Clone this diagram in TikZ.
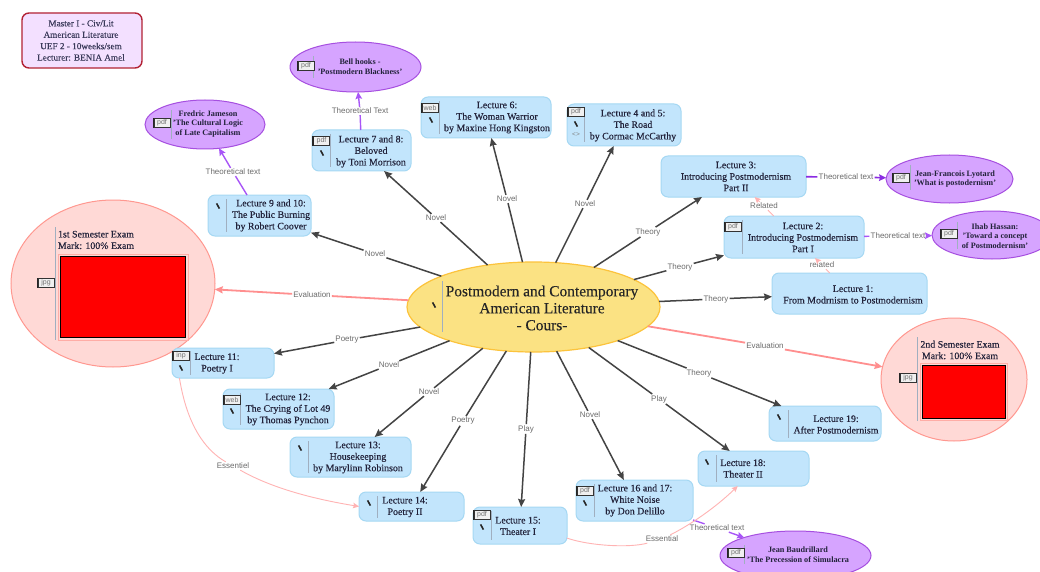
\documentclass[tikz,border=0pt]{standalone}
\usepackage{fontspec}
\setmainfont{Liberation Serif}
\setsansfont{Liberation Sans}
\newfontfamily\heavyserif[FakeBold=0.25]{Liberation Serif}
\usetikzlibrary{arrows.meta,shapes.geometric}
\definecolor{lecfill}{HTML}{C2E5FC}
\definecolor{lecline}{HTML}{A5D8F3}
\definecolor{purfill}{HTML}{D6A4FF}
\definecolor{purline}{HTML}{A64FE0}
\definecolor{pinkfill}{HTML}{FFD9D6}
\definecolor{pinkline}{HTML}{FF9890}
\definecolor{mainfill}{HTML}{FBE283}
\definecolor{mainline}{HTML}{FCC33C}
\definecolor{divcol}{HTML}{A0AFC0}
\definecolor{edgecol}{HTML}{444444}
\definecolor{evalcol}{HTML}{FF8F8F}
\definecolor{relcol}{HTML}{FFB3B3}
\definecolor{thcol}{HTML}{A855F7}
\definecolor{thdark}{HTML}{8A2BE2}
\definecolor{inktext}{HTML}{22223A}
\definecolor{infofill}{HTML}{F3E0FF}
\definecolor{infoline}{HTML}{B22234}
\definecolor{infoink}{HTML}{3A3A5A}
\tikzset{
  base/.style={inner sep=0pt,outer sep=0pt,line width=1pt},
  lecshape/.style={base,rectangle,rounded corners=7pt,fill=lecfill,draw=lecline},
  purshape/.style={base,ellipse,fill=purfill,draw=purline},
  pinkshape/.style={base,ellipse,fill=pinkfill,draw=pinkline},
  mainshape/.style={base,ellipse,fill=mainfill,draw=mainline,line width=1.2pt},
  infoshape/.style={base,rectangle,rounded corners=7pt,fill=infofill,draw=infoline,line width=1.4pt},
  lectext/.style={inner sep=0pt,align=center,text=inktext,font=\heavyserif\fontsize{9.9}{11.5}\selectfont},
  purtext/.style={inner sep=0pt,align=center,text=inktext,font=\fontsize{8.2}{9.7}\selectfont\bfseries},
  maintext/.style={inner sep=0pt,align=center,text=black!85,font=\heavyserif\fontsize{15.4}{17}\selectfont},
  infotext/.style={inner sep=0pt,align=center,text=infoink,font=\heavyserif\fontsize{9.2}{11.4}\selectfont},
  tagicon/.style={inner sep=0pt,minimum width=16pt,minimum height=9pt,fill=gray!12,draw=black!80,line width=.9pt,text=gray!90!black,font=\sffamily\fontsize{7}{7}\selectfont},
  divline/.style={draw=divcol,line width=.8pt},
  penmark/.style={draw=black!85,line width=1.6pt},
  edgelab/.style={inner sep=1pt,text=gray!85!black,font=\sffamily\fontsize{8}{9}\selectfont},
  ed/.style={draw=edgecol,line width=1.5pt,-{Stealth[length=8pt,width=7pt,inset=1pt]}},
  evaled/.style={draw=evalcol,line width=1.8pt,-{Stealth[length=8pt,width=7pt,inset=1pt]}},
  thed/.style={draw=thcol,line width=1.4pt,-{Stealth[length=7pt,width=6.5pt,inset=1pt]}},
  thedk/.style={draw=thdark,line width=1.7pt,-{Stealth[length=7pt,width=6.5pt,inset=1pt]}},
  reled/.style={draw=relcol,line width=.9pt,-{Stealth[length=6pt,width=5.5pt,inset=1pt]}},
  imgouter/.style={inner sep=0pt,outer sep=0pt,draw=pinkline!80,line width=.6pt},
  imgred/.style={inner sep=0pt,outer sep=0pt,fill=red,draw=black,line width=1.5pt},
}
\newcommand{\shp}[6]{\node[#6,minimum width={#4-#2},minimum height={#5-#3}] (#1) at ({(#2+#4)/2},{(#3+#5)/2}) {};}
\newcommand{\tagat}[4]{\node[tagicon] (#1) at (#2,#3) {#4};
  \draw[black!85,line width=1.4pt] (#1.south west) -- (#1.north west);}
\newcommand{\penat}[2]{\draw[penmark] (#1-1.4,#2-2.6) -- (#1+1.4,#2+2.6);}
\newcommand{\divat}[3]{\draw[divline] (#1,#2) -- (#1,#3);}
\begin{document}
\begin{tikzpicture}[x=1pt,y=-1pt]
\useasboundingbox (0,0) rectangle (1040,572);
\clip (0,0) rectangle (1040,572);
\fill[white] (0,0) rectangle (1040,572);
% info box
\shp{info}{22}{13}{142}{68}{infoshape}
\node[infotext] (infot) at (81,40.5) {Master I - Civ/Lit\\American Literature\\UEF 2 - 10weeks/sem\\Lecturer: BENIA Amel};
% main
\shp{main}{407}{262}{660}{352}{mainshape}
\divat{442.5}{281}{332}\penat{434}{305}
\node[maintext] (maint) at (542,308) {Postmodern and Contemporary\\American Literature\\- Cours-};
% exams
\shp{examA}{11}{200}{215}{367}{pinkshape}
\divat{55}{227}{340}
\tagat{examAtag}{46}{283}{jpg}
\node[lectext] (examAt) at (96,240) {1st Semester Exam\\Mark: 100\% Exam};
\node[imgouter,minimum width=130pt,minimum height=86pt] (examAo) at (123,297) {};
\node[imgred,minimum width=125pt,minimum height=81pt] (examAi) at (123,297) {};
\shp{examB}{881}{318}{1027}{441}{pinkshape}
\divat{917}{337}{421}
\tagat{examBtag}{908}{378}{jpg}
\node[lectext] (examBt) at (960,350) {2nd Semester Exam\\Mark: 100\% Exam};
\node[imgouter,minimum width=87pt,minimum height=57pt] (examBo) at (964,392) {};
\node[imgred,minimum width=83pt,minimum height=53pt] (examBi) at (964,392) {};
% purple ellipses
\shp{jam}{145}{100}{265}{149}{purshape}
\divat{171}{110}{139}\tagat{jamtag}{162}{123}{pdf}
\node[purtext] (jamt) at (208,124) {Fredric Jameson\\'The Cultural Logic\\of Late Capitalism};
\shp{bell}{290}{42}{421}{92}{purshape}
\divat{313}{56}{78}\tagat{belltag}{306}{66}{pdf}
\node[purtext] (bellt) at (360,67) {Bell hooks -\\'Postmodern Blackness'};
\shp{lyo}{886}{155}{1013}{203}{purshape}
\divat{910}{165}{190}\tagat{lyotag}{901}{178}{pdf}
\node[purtext] (lyot) at (955,179) {Jean-Francois Lyotard\\'What is postodernism'};
\shp{has}{932}{211}{1052}{259}{purshape}
\divat{957}{222}{249}\tagat{hastag}{949}{234}{pdf}
\node[purtext] (hast) at (995,236) {Ihab Hassan:\\'Toward a concept\\of Postmodernism'};
\shp{bau}{720}{531}{871}{580}{purshape}
\divat{744}{545}{564}\tagat{bautag}{736}{553}{pdf}
\node[purtext] (baut) at (798,555) {Jean Baudrillard\\'The Precession of Simulacra};
% lectures
\shp{Lix}{208}{195}{311}{236}{lecshape}
\divat{226}{199}{232}\penat{218}{206}
\node[lectext] (Lixt) at (271,215.5) {Lecture 9 and 10:\\The Public Burning\\by Robert Coover};
\shp{Lvii}{312}{130}{411}{171}{lecshape}
\divat{330}{134}{167}\tagat{Lviitag}{321.5}{141}{pdf}\penat{322}{153}
\node[lectext] (Lviit) at (371,151.5) {Lecture 7 and 8:\\Beloved\\by Toni Morrison};
\shp{Lvi}{421}{97}{551}{138}{lecshape}
\divat{439}{101}{134}\tagat{Lvitag}{430}{108}{web}\penat{431}{120}
\node[lectext] (Lvit) at (497,117.5) {Lecture 6:\\The Woman Warrior\\by Maxine Hong Kingston};
\shp{Liv}{567}{104}{681}{146}{lecshape}
\divat{584}{108}{142}\tagat{Livtag}{576}{112}{pdf}\penat{576}{124}
\node[inner sep=0pt,text=gray,font=\sffamily\fontsize{6.5}{7}\selectfont] (Livcode) at (576,135) {<>};
\node[lectext] (Livt) at (633,125.5) {Lecture 4 and 5:\\The Road\\by Cormac McCarthy};
\shp{Liii}{661}{156}{806}{197}{lecshape}
\node[lectext] (Liiit) at (736,176.5) {Lecture 3:\\Introducing Postmodernism\\Part II};
\shp{Lii}{724}{216}{864}{258}{lecshape}
\divat{742}{220}{254}\tagat{Liitag}{733}{227}{pdf}
\node[lectext] (Liit) at (803,237.5) {Lecture 2:\\Introducing Postmodernism\\Part I};
\shp{Li}{772}{273}{927}{314}{lecshape}
\node[lectext] (Lit) at (853,294.5) {Lecture 1:\\From Modrnism to Postmodernism};
\shp{Lxi}{172}{348}{274}{378}{lecshape}
\divat{190}{351}{375}\tagat{Lxitag}{181}{356}{inp}\penat{181}{368}
\node[lectext] (Lxit) at (217,363.5) {Lecture 11:\\Poetry I};
\shp{Lxii}{223}{389}{334}{429}{lecshape}
\divat{240}{393}{425}\tagat{Lxiitag}{232}{400}{web}\penat{232}{411}
\node[lectext] (Lxiit) at (288,409.5) {Lecture 12:\\The Crying of Lot 49\\by Thomas Pynchon};
\shp{Lxiii}{290}{437}{411}{477}{lecshape}
\divat{308}{441}{473}\penat{300}{448}
\node[lectext] (Lxiiit) at (358,457.5) {Lecture 13:\\Housekeeping\\by Marylinn Robinson};
\shp{Lxiv}{359}{492}{464}{521}{lecshape}
\divat{377}{496}{518}\penat{369}{503}
\node[lectext] (Lxivt) at (405,507) {Lecture 14:\\Poetry II};
\shp{Lxv}{473}{507}{567}{544}{lecshape}
\divat{491}{511}{540}\tagat{Lxvtag}{482}{515}{pdf}\penat{482}{527}
\node[lectext] (Lxvt) at (518,526) {Lecture 15:\\Theater I};
\shp{Lxvi}{576}{480}{693}{521}{lecshape}
\divat{594}{484}{517}\tagat{Lxvitag}{585}{491}{pdf}\penat{585}{503}
\node[lectext] (Lxvit) at (635,500.5) {Lecture 16 and 17:\\White Noise\\by Don Delillo};
\shp{Lxviii}{698}{451}{809}{486}{lecshape}
\divat{716}{455}{482}\penat{707}{462}
\node[lectext] (Lxviiit) at (743,468.5) {Lecture 18:\\Theater II};
\shp{Lxix}{769}{406}{881}{441}{lecshape}
\divat{788}{410}{438}\penat{779}{417}
\node[lectext] (Lxixt) at (836,424.5) {Lecture 19:\\After Postmodernism};
% labels
\node[edgelab] (e1) at (375,254) {Novel};
\node[edgelab] (e2) at (436,218) {Novel};
\node[edgelab] (e3) at (507,199) {Novel};
\node[edgelab] (e4) at (585,204) {Novel};
\node[edgelab] (e5) at (648,232) {Theory};
\node[edgelab] (e6) at (680,267) {Theory};
\node[edgelab] (e7) at (716,299) {Theory};
\node[edgelab] (e8) at (312,295) {Evaluation};
\node[edgelab] (e9) at (765,346) {Evaluation};
\node[edgelab] (e10) at (699,373) {Theory};
\node[edgelab] (e11) at (659,399) {Play};
\node[edgelab] (e12) at (590,415) {Novel};
\node[edgelab] (e13) at (526,429) {Play};
\node[edgelab] (e14) at (463,421) {Poetry};
\node[edgelab] (e15) at (429,392) {Novel};
\node[edgelab] (e16) at (389,365) {Novel};
\node[edgelab] (e17) at (347,340) {Poetry};
\node[edgelab] (t1) at (233,172) {Theoretical text};
\node[edgelab] (t2) at (360,111) {Theoretical Text};
\node[edgelab] (t3) at (846,177) {Theoretical text};
\node[edgelab] (t4) at (898,236) {Theoretical text};
\node[edgelab] (t5) at (717,528) {Theoretical text};
\node[edgelab] (r1) at (764,206) {Related};
\node[edgelab] (r2) at (822,265) {related};
\node[edgelab] (s1) at (233,466) {Essentiel};
\node[edgelab] (s2) at (662,539) {Essential};
% connectors
\draw[ed] (main) -- (e1) -- (Lix);
\draw[ed] (main) -- (e2) -- (Lvii);
\draw[ed] (main) -- (e3) -- (Lvi);
\draw[ed] (main) -- (e4) -- (Liv);
\draw[ed] (main) -- (e5) -- (Liii);
\draw[ed] (main) -- (e6) -- (Lii);
\draw[ed] (main) -- (e7) -- (Li);
\draw[ed] (main) -- (e10) -- (Lxix);
\draw[ed] (main) -- (e11) -- (Lxviii);
\draw[ed] (main) -- (e12) -- (Lxvi);
\draw[ed] (main) -- (e13) -- (Lxv);
\draw[ed] (main) -- (e14) -- (Lxiv);
\draw[ed] (main) -- (e15) -- (Lxiii);
\draw[ed] (main) -- (e16) -- (Lxii);
\draw[ed] (main) -- (e17) -- (Lxi);
\draw[evaled] (main) -- (e8) -- (examA);
\draw[evaled] (main) -- (e9) -- (examB);
\draw[thed] (Lix) -- (t1) -- (jam);
\draw[thed] (Lvii) -- (t2) -- (bell);
\draw[thedk] (Liii) -- (t3) -- (lyo);
\draw[thed] (Lii) -- (t4) -- (has);
\draw[thed] (Lxvi) -- (t5) -- (bau);
\draw[reled] (Lii) -- (r1) -- (Liii);
\draw[reled] (Li) -- (r2) -- (Lii);
\draw[reled,-] (Lxi.199.6) .. controls (187,425) and (205,450) .. (s1);
\draw[reled] (s1) .. controls (275,490) and (320,500) .. (Lxiv.west);
\draw[reled,-] (Lxv.-15) .. controls (590,546) and (630,548) .. (s2);
\draw[reled] (s2) .. controls (690,525) and (715,508) .. (Lxviii.228.5);
\end{tikzpicture}
\end{document}
